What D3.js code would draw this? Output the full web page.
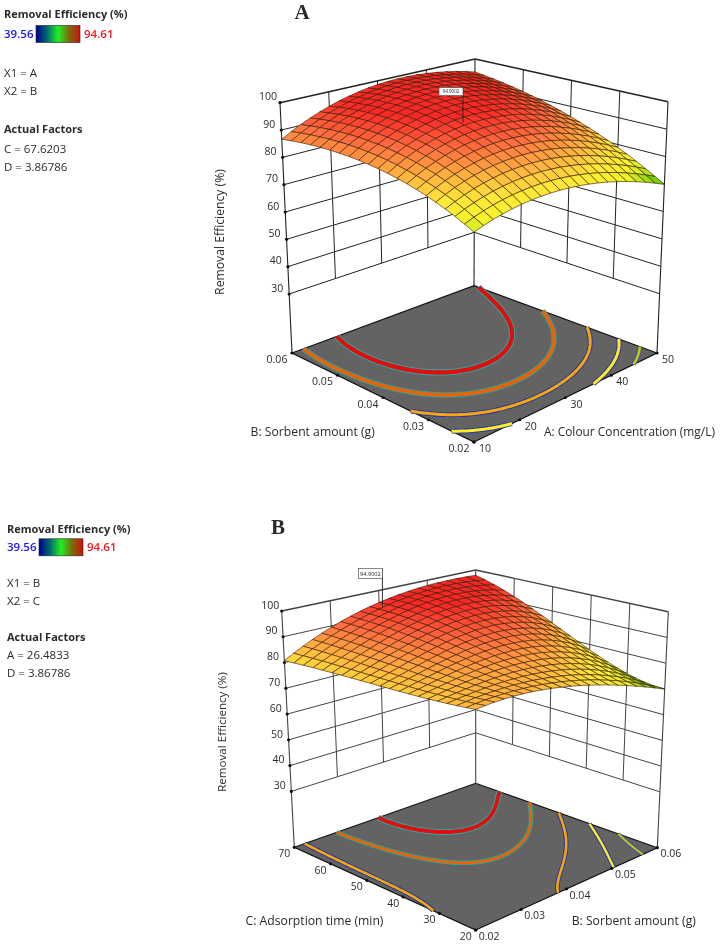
<!DOCTYPE html>
<html><head><meta charset="utf-8">
<script src="https://cdn.jsdelivr.net/npm/d3@7"></script>
<style>html,body{margin:0;background:#fff}svg{display:block}text{font-family:"Open Sans",sans-serif}</style>
</head><body><svg id="c" width="728" height="944"></svg>
<script>
// ---- values ----
const zTicks = [30,40,50,60,70,80,90,100];
const rangeLow = 39.56, rangeHigh = 94.61;
const zAxisTitle = "Removal Efficiency (%)";

const aXTicks = [10,20,30,40,50];                 // A: Colour Concentration
const aYTicks = [0.02,0.03,0.04,0.05,0.06];       // B: Sorbent amount
// rows: y tick (0.02 .. 0.06), columns: x tick (10 .. 50)
const aSurface = [
 [73.9,78.4,79.3,76.0,70.5],
 [81.0,85.3,89.5,86.0,77.5],
 [86.0,93.2,96.5,94.3,86.5],
 [87.2,96.0,99.0,97.5,92.0],
 [86.6,94.3,99.0,98.0,94.6]];
const aLevels = [73.5,77.6,83,89,94.5];
const aFlag = [26.4833,0.0388,94.9002];
const aLegend = ["X1 = A","X2 = B","C = 67.6203","D = 3.86786"];

const bXTicks = [0.02,0.03,0.04,0.05,0.06];       // B: Sorbent amount
const bYTicks = [20,30,40,50,60,70];              // C: Adsorption time
// rows: y position 20, 32.5, 45, 57.5, 70; columns: x tick (0.02 .. 0.06)
const bSurface = [
 [84.4,84.6,82.6,77.0,70.0],
 [82.9,85.5,86.5,83.0,73.3],
 [82.4,87.0,90.5,89.5,81.5],
 [81.7,88.7,94.2,95.8,90.6],
 [80.8,89.2,95.5,97.5,97.8]];
const bLevels = [72.5,77,83,89,94.5];
const bFlag = [0.0388,67.6203,94.9002];
const bLegend = ["X1 = B","X2 = C","A = 26.4833","D = 3.86786"];

const levelColors = ["#9be000","#ffee20","#f7a800","#f06000","#e01010"];
const levelEdges  = ["#7a30c0","#2030b0","#2030b0","#20a8a0","#20b0a8"];
const colorStops  = [rangeLow,53,67.5,71.5,76,80,85,90,96];
const colorRange  = ["#0000ff","#00ffff","#20d000","#70d000","#f4f428","#ffe838","#ffb040","#ff7040","#ff2828"];
const legendStops = ["#00008c","#006a70","#20f020","#7a6a10","#d01008"];

// ---- layout ----
const svg = d3.select("#c");
const defs = svg.append("defs");
defs.append("filter").attr("id","soft").append("feGaussianBlur").attr("stdDeviation",0.35);
const grad = defs.append("linearGradient").attr("id","lg");
legendStops.forEach((c,i)=>grad.append("stop").attr("offset",i/(legendStops.length-1)).attr("stop-color",c));
const root = svg.append("g").attr("filter","url(#soft)");
const color = d3.scaleLinear().domain(colorStops).range(colorRange).clamp(true);

// the response surface: a low-order polynomial least-squares smooth of the 5-by-5 read table
const basis=[()=>1,t=>t,t=>t*t-2,t=>(5*t*t*t-17*t)/6];
const nodes=[-2,-1,0,1,2];
function smooth1(vals,t,deg){
  let s=0;
  for(let k=0;k<=deg;k++){
    const pv=nodes.map(basis[k]);
    s+=d3.sum(vals,(y,i)=>y*pv[i])/d3.sum(pv,p=>p*p)*basis[k](t);
  }
  return s;
}
function surfaceAt(tbl,u,v,deg){
  return smooth1(tbl.map(r=>smooth1(r,u*4-2,deg)),v*4-2,deg);
}

function panel(p){
  const g = root.append("g");
  const ux = d3.scaleLinear().domain(d3.extent(p.xTicks)).range([0,1]);
  const vy = d3.scaleLinear().domain(d3.extent(p.yTicks)).range([0,1]);
  const zt = d3.scaleLinear().domain([p.zFloor,100]).range([0,1]);
  const lerp=(a,b,t)=>a+(b-a)*t;
  const bil=(k,c,u,v)=>lerp(lerp(p.front[k][c],p.right[k][c],u),lerp(p.left[k][c],p.back[k][c],u),v);
  const proj=(u,v,z)=>{const t=zt(z);return [lerp(bil(0,0,u,v),bil(1,0,u,v),t),lerp(bil(0,1,u,v),bil(1,1,u,v),t)];};
  const line=d3.line();
  const Z=(u,v)=>surfaceAt(p.surface,u,v,p.deg);
  // walls
  const wl=(a,b,w=1)=>g.append("path").attr("d",line([a,b])).attr("stroke",p.ink).attr("stroke-width",w).attr("fill","none");
  zTicks.forEach(z=>{
    const w=z===100?1.4:1;
    wl(proj(0,1,z),proj(1,1,z),w); wl(proj(1,1,z),proj(1,0,z),w);
  });
  p.xTicks.slice(1,-1).forEach(t=>wl(proj(ux(t),1,30),proj(ux(t),1,100)));
  p.yTicks.slice(1,-1).forEach(t=>wl(proj(1,vy(t),30),proj(1,vy(t),100)));
  [[0,1],[1,1],[1,0]].forEach(c=>wl(proj(c[0],c[1],p.zFloor),proj(c[0],c[1],100),1.1));
  // floor
  g.append("path").attr("d",line([[0,0],[1,0],[1,1],[0,1]].map(c=>proj(c[0],c[1],p.zFloor)))+"Z")
    .attr("fill","#636363").attr("stroke","#111").attr("stroke-width",1.2);
  // contours on the floor
  const n=121, vals=new Array(n*n);
  for(let j=0;j<n;j++)for(let i=0;i<n;i++) vals[j*n+i]=Z(i/(n-1),j/(n-1));
  const cs=d3.contours().size([n,n]).thresholds(p.levels)(vals);
  const cl=v=>Math.max(0,Math.min(1,(v-.5)/(n-1)));
  cs.forEach((c,ci)=>{
    const paths=[];
    c.coordinates.forEach(poly=>poly.forEach(ring=>{
      let cur=[];
      ring.forEach(pt=>{
        const edge=pt[0]<=0||pt[0]>=n||pt[1]<=0||pt[1]>=n;
        if(edge){ if(cur.length>1) paths.push(cur); cur=[]; }
        else cur.push(proj(cl(pt[0]),cl(pt[1]),p.zFloor));
      });
      if(cur.length>1) paths.push(cur);
    }));
    const d=paths.map(q=>line(q)).join("");
    const w=p.levelWidths[ci];
    g.append("path").attr("d",d).attr("fill","none").attr("stroke",levelEdges[ci]).attr("stroke-width",w+1.8);
    g.append("path").attr("d",d).attr("fill","none").attr("stroke",levelColors[ci]).attr("stroke-width",w);
  });
  // tick dots
  const dot=q=>g.append("circle").attr("cx",q[0]).attr("cy",q[1]).attr("r",1.6).attr("fill","#111");
  zTicks.forEach(z=>dot(proj(0,1,z)));
  p.xTicks.forEach(t=>dot(proj(ux(t),0,p.zFloor)));
  p.yTicks.forEach(t=>dot(proj(0,vy(t),p.zFloor)));
  // surface mesh, far cells first
  const M=20, cells=[];
  for(let j=0;j<M;j++)for(let i=0;i<M;i++)cells.push([i,j]);
  cells.sort((a,b)=>(b[0]+b[1])-(a[0]+a[1]));
  cells.forEach(([i,j])=>{
    const cor=[[i,j],[i+1,j],[i+1,j+1],[i,j+1]].map(c=>[c[0]/M,c[1]/M]);
    const zs=cor.map(c=>Z(c[0],c[1]));
    g.append("path").attr("d",line(cor.map((c,k)=>proj(c[0],c[1],zs[k])))+"Z")
      .attr("fill",color(d3.mean(zs))).attr("stroke","#301a00").attr("stroke-width",0.6).attr("stroke-linejoin","round");
  });
  // flag
  const fp=proj(ux(p.flag[0]),vy(p.flag[1]),p.flag[2]);
  g.append("line").attr("x1",fp[0]).attr("x2",fp[0]).attr("y1",fp[1]).attr("y2",fp[1]-p.flagRise).attr("stroke","#222").attr("stroke-width",.9);
  const bw=p.flagW,bh=p.flagH,by=fp[1]-p.flagRise;
  g.append("rect").attr("x",fp[0]-bw).attr("y",by).attr("width",bw).attr("height",bh).attr("fill","#fff").attr("stroke","#555").attr("stroke-width",.7);
  g.append("text").attr("x",fp[0]-bw/2).attr("y",by+bh/2+1.9).attr("text-anchor","middle").attr("font-size",p.flagFont).attr("fill","#222").text(p.flag[2].toFixed(4));
  // labels
  const txt=(x,y,s,o={})=>{const e=g.append("text").attr("x",x).attr("y",y).attr("dy","0.35em").attr("fill",o.fill||"#2b2b2b")
      .attr("font-size",o.size||11.5).attr("font-weight",o.weight||400).attr("text-anchor",o.anchor||"middle").text(s);
      if(o.family)e.style("font-family",o.family); if(o.rot!==undefined)e.attr("transform",`rotate(${o.rot} ${x} ${y})`);return e;};
  zTicks.forEach(z=>{const q=proj(0,1,z);txt(q[0]+p.zOff[0],q[1]+p.zOff[1],z,{size:10.5});});
  p.xTicks.forEach(t=>{const q=proj(ux(t),0,p.zFloor);txt(q[0]+p.xOff[0],q[1]+p.xOff[1],p.xFmt(t),{size:10.5});});
  p.yTicks.forEach(t=>{const q=proj(0,vy(t),p.zFloor);txt(q[0]+p.yOff[0],q[1]+p.yOff[1],p.yFmt(t),{size:10.5});});
  txt(p.xTitle[1],p.xTitle[2],p.xTitle[0],{anchor:"start",size:p.xTitle[3]});
  txt(p.yTitle[1],p.yTitle[2],p.yTitle[0],{size:12.2});
  txt(p.zTitle[0],p.zTitle[1],zAxisTitle,{rot:-90,size:p.zTitle[2]});
  // legend
  const L=p.lx,T=p.legendY;
  txt(L,T[0],zAxisTitle,{anchor:"start",weight:700,size:11});
  txt(L,T[1],rangeLow,{anchor:"start",weight:600,size:11.5,fill:"#1818f0"});
  g.append("rect").attr("x",L+32).attr("y",T[1]-8.5).attr("width",44).attr("height",17).attr("fill","url(#lg)").attr("stroke","#222").attr("stroke-width",.6);
  txt(L+80,T[1],rangeHigh,{anchor:"start",weight:600,size:11.5,fill:"#f01820"});
  txt(L,T[2],p.legend[0],{anchor:"start",size:11.5});
  txt(L,T[3],p.legend[1],{anchor:"start",size:11.5});
  txt(L,T[4],"Actual Factors",{anchor:"start",weight:700,size:11});
  txt(L,T[5],p.legend[2],{anchor:"start",size:11.5});
  txt(L,T[6],p.legend[3],{anchor:"start",size:11.5});
  txt(p.letter[1],p.letter[2],p.letter[0],{size:21,weight:700,family:'"Liberation Serif",serif'});
}

panel({
  xTicks:aXTicks,yTicks:aYTicks,surface:aSurface,levels:aLevels,flag:aFlag,legend:aLegend,deg:2,
  levelWidths:[2.6,3,3,3.6,4.4],zFloor:8.4,ink:"#222",
  front:[[474,442],[474,148]],right:[[657,353],[668,101.7]],left:[[292,353],[280,102.7]],back:[[474,285.7],[475,59]],
  zOff:[-12,-6],xOff:[11,6.5],yOff:[-15,6.5],xFmt:d=>d,yFmt:d=>d.toFixed(2),
  xTitle:["A: Colour Concentration (mg/L)",544,431.7,11.9],yTitle:["B: Sorbent amount (g)",312.7,431.7],zTitle:[220,232,12.2],
  flagRise:35,flagW:24,flagH:8,flagFont:4.6,
  lx:4,legendY:[14.5,34,72.5,91,129,149,167],letter:["A",302,12]
});
panel({
  xTicks:bXTicks,yTicks:bYTicks,surface:bSurface,levels:bLevels,flag:bFlag,legend:bLegend,deg:3,
  levelWidths:[2,2.4,2.6,2.8,4],zFloor:8.3,ink:"#444",
  front:[[475.7,930],[475.7,664]],right:[[657.3,847.7],[668.3,611.7]],left:[[294.3,847.3],[281.7,611]],back:[[475.7,783.3],[475.7,570]],
  zOff:[-11.5,-6],xOff:[13.5,6],yOff:[-10,6],xFmt:d=>d.toFixed(2),yFmt:d=>d,
  xTitle:["B: Sorbent amount (g)",571.7,920.7,12.2],yTitle:["C: Adsorption time (min)",314.5,920.7],zTitle:[221.7,732,11.6],
  flagRise:38,flagW:24,flagH:10,flagFont:5.6,
  lx:7,legendY:[529,547.3,583.3,601,636.7,655,673],letter:["B",278,527]
});
</script></body></html>
